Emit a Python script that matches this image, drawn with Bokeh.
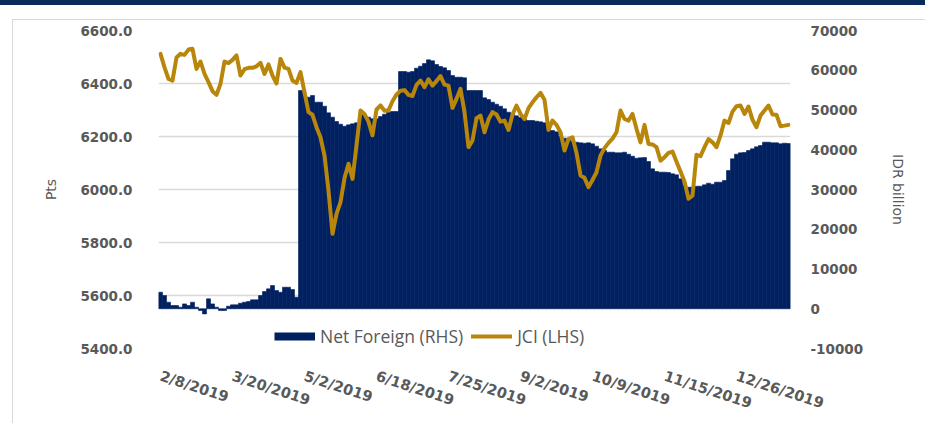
import math
from bokeh.plotting import figure
from bokeh.models import (Range1d, LinearAxis, FixedTicker, NumeralTickFormatter,
                          Legend, LegendItem, ColumnDataSource)
from bokeh.embed import file_html
from bokeh.resources import INLINE

# ---------------- data ----------------
tick_labels = ["2/8/2019", "3/20/2019", "5/2/2019", "6/18/2019", "7/25/2019",
               "9/2/2019", "10/9/2019", "11/15/2019", "12/26/2019"]
tick_index = [0, 18, 36, 54, 72, 90, 108, 126, 144]

jci = [
    6512, 6461, 6417, 6411, 6498, 6512, 6508, 6528, 6531, 6455,
    6483, 6436, 6405, 6371, 6357, 6399, 6483, 6477, 6489, 6506,
    6430, 6454, 6459, 6459, 6465, 6478, 6436, 6472, 6430, 6400,
    6493, 6460, 6455, 6411, 6402, 6443, 6367, 6292, 6282, 6235,
    6197, 6128, 5996, 5833, 5908, 5952, 6043, 6097, 6040, 6166,
    6298, 6285, 6256, 6204, 6302, 6317, 6297, 6299, 6333, 6358,
    6373, 6375, 6357, 6353, 6395, 6411, 6386, 6416, 6392, 6409,
    6428, 6396, 6392, 6308, 6342, 6380, 6292, 6160, 6185, 6269,
    6279, 6216, 6264, 6292, 6283, 6256, 6260, 6225, 6283, 6317,
    6285, 6266, 6307, 6329, 6348, 6365, 6339, 6225, 6260, 6244,
    6216, 6147, 6191, 6197, 6138, 6053, 6044, 6009, 6036, 6065,
    6128, 6156, 6176, 6192, 6216, 6298, 6266, 6260, 6285, 6229,
    6178, 6244, 6172, 6170, 6160, 6109, 6122, 6138, 6143, 6105,
    6068, 6030, 5965, 5977, 6131, 6126, 6160, 6190, 6178, 6160,
    6204, 6260, 6251, 6294, 6314, 6317, 6285, 6313, 6263, 6235,
    6279, 6298, 6317, 6283, 6282, 6239, 6241, 6244,
]

net_foreign = [
    4162, 3323, 1646, 807, 807, 388, 1226, 807, 1646, 388,
    -451, -1290, 2485, 1226, 388, -451, -451, 639, 975, 975,
    1394, 1646, 1814, 2233, 2233, 3323, 4330, 5001, 5840, 4581,
    4162, 5420, 5420, 4833, 2904, 54903, 54065, 53226, 53645, 51968,
    51968, 50962, 49284, 48194, 47104, 46433, 45930, 46265, 46516, 46768,
    48865, 48781, 48194, 47775, 47775, 48362, 48949, 49367, 49619, 49619,
    59684, 59684, 59516, 59684, 60523, 61026, 61697, 62620, 62368, 61445,
    60942, 60607, 59936, 58678, 58258, 58258, 58090, 54903, 54903, 54903,
    54903, 53058, 52639, 51968, 51465, 50962, 50291, 49452, 49033, 48529,
    48110, 47691, 47355, 47355, 47187, 47020, 46768, 45426, 44839, 44504,
    43414, 42911, 42491, 42072, 41904, 41737, 41653, 41737, 41485, 40898,
    40227, 39808, 39388, 39388, 39220, 39220, 39388, 38885, 38382, 37879,
    37961, 38046, 37040, 35194, 34523, 34356, 34356, 34272, 33936, 33685,
    32678, 31169, 30582, 30582, 30833, 30833, 31169, 31588, 31337, 31840,
    31840, 32259, 34775, 37711, 38885, 39220, 39304, 39808, 40227, 40730,
    41066, 41904, 41904, 41737, 41737, 41485, 41653, 41569,
]

left_ticks = [5400, 5600, 5800, 6000, 6200, 6400, 6600]
right_ticks = [-10000, 0, 10000, 20000, 30000, 40000, 50000, 60000, 70000]

# ---------------- styling ----------------
NAVY = "#002060"
GOLD = "#B8860B"
GREY_TXT = "#595959"
GRID = "#d9d9d9"

idx = list(range(len(jci)))
src = ColumnDataSource(dict(x=idx, jci=jci, nf=net_foreign))

W, H = 925, 423
FL, FT, FR, FB = 158, 30, 790, 348

p = figure(width=W, height=H, output_backend="svg", toolbar_location=None,
           x_range=Range1d(-0.5, len(idx) - 0.5),
           y_range=Range1d(left_ticks[0], left_ticks[-1]),
           min_border_left=FL, min_border_top=FT,
           min_border_right=W - FR, min_border_bottom=H - FB)
p.outline_line_color = None
p.background_fill_color = "white"
p.border_fill_alpha = 0
p.styles = {
    "background-color": "white",
    "background-image": ("linear-gradient(#0b2a5c, #0b2a5c), "
                         "linear-gradient(#d9d9d9, #d9d9d9), "
                         "linear-gradient(#d9d9d9, #d9d9d9)"),
    "background-size": "100% 5px, 1px 100%, 100% 1px",
    "background-position": "0px 0px, 12px 19px, 12px 19px",
    "background-repeat": "no-repeat",
}

p.extra_y_ranges = {"nf": Range1d(right_ticks[0], right_ticks[-1])}

bars = p.vbar(x="x", top="nf", bottom=0, width=1.0, source=src, y_range_name="nf",
              fill_color=NAVY, line_color=NAVY, line_width=0.6)
line = p.line(x="x", y="jci", source=src, line_color=GOLD, line_width=4,
              line_join="round", line_cap="round")
# legend swatch for the bars: a one-point line draws nothing on the plot
swatch = p.line(x=idx[:1], y=jci[:1], line_color=NAVY, line_width=8, line_cap="butt")

# grids
p.xgrid.grid_line_color = None
p.ygrid.ticker = FixedTicker(ticks=left_ticks)
p.ygrid.grid_line_color = GRID
p.ygrid.grid_line_width = 1.5

def style_axis(ax, size="13.5px"):
    ax.axis_line_color = None
    ax.major_tick_line_color = None
    ax.minor_tick_line_color = None
    ax.major_label_text_font = "DejaVu Sans"
    ax.major_label_text_font_style = "bold"
    ax.major_label_text_font_size = size
    ax.major_label_text_color = GREY_TXT
    ax.axis_label_text_font = "DejaVu Sans"
    ax.axis_label_text_font_style = "normal"
    ax.axis_label_text_font_size = "14px"
    ax.axis_label_text_color = GREY_TXT

yl = p.yaxis[0]
yl.ticker = FixedTicker(ticks=left_ticks)
yl.formatter = NumeralTickFormatter(format="0.0")
yl.axis_label = "Pts"
style_axis(yl)
yl.major_label_standoff = 20
yl.axis_label_standoff = 18

yr = LinearAxis(y_range_name="nf", ticker=FixedTicker(ticks=right_ticks),
                formatter=NumeralTickFormatter(format="0"), axis_label="IDR billion")
style_axis(yr)
yr.major_label_standoff = 14
yr.axis_label_standoff = 24
p.add_layout(yr, "right")

xa = p.xaxis[0]
xa.ticker = FixedTicker(ticks=tick_index)
xa.major_label_overrides = {i: lab for i, lab in zip(tick_index, tick_labels)}
xa.major_label_orientation = -math.radians(18)
style_axis(xa, "14.5px")
xa.major_label_standoff = 21

legend = Legend(items=[LegendItem(label="Net Foreign (RHS)", renderers=[swatch]),
                       LegendItem(label="JCI (LHS)", renderers=[line])],
                orientation="horizontal", location=(116, 0))
legend.glyph_width = 41
legend.glyph_height = 14
legend.label_standoff = 5
legend.spacing = 8
legend.padding = 0
legend.margin = 0
legend.border_line_color = None
legend.background_fill_alpha = 0
legend.label_text_font = "Open Sans"
legend.label_text_font_size = "17.5px"
legend.label_text_color = GREY_TXT
legend.label_height = 14
p.add_layout(legend)

open("out.html", "w").write(file_html(p, INLINE))
